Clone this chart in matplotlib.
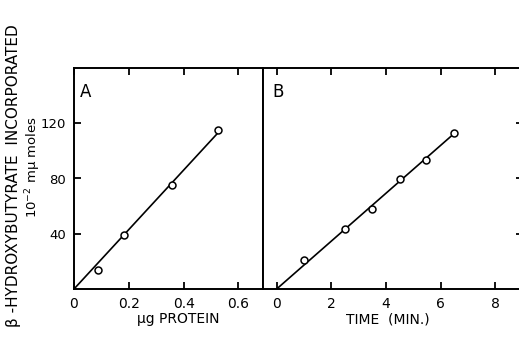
import matplotlib
matplotlib.use("Agg")
import matplotlib.pyplot as plt
import numpy as np

# Panel A data
protein = [0.087, 0.184, 0.356, 0.527]
incorp_a = [13.7, 39.0, 75.2, 115.0]
fit_a_x = [0.0, 0.53]
fit_a_y = [0.0, 114.0]

# Panel B data
time_min = [1.0, 2.52, 3.5, 4.5, 5.47, 6.5]
incorp_b = [21.0, 43.4, 57.6, 79.8, 93.6, 112.6]
fit_b_x = [0.0, 6.5]
fit_b_y = [0.0, 112.6]

a_xticks = [0, 0.2, 0.4, 0.6]
a_xticklabels = ["0", "0.2", "0.4", "0.6"]
b_xticks = [0, 2, 4, 6, 8]
b_xticklabels = ["0", "2", "4", "6", "8"]
yticks = [40, 80, 120]
yticklabels = ["40", "80", "120"]

W, H = 519, 346
fig = plt.figure(figsize=(W / 100, H / 100), dpi=100)
plt.rcParams['font.family'] = ['DejaVu Sans']

def rect(l, r, t, b):
    return [l / W, 1 - b / H, (r - l) / W, (b - t) / H]

axA = fig.add_axes(rect(74, 263, 68, 289))
axB = fig.add_axes(rect(263, 522.5, 68, 289))

for ax in (axA, axB):
    for s in ax.spines.values():
        s.set_linewidth(1.4)
    ax.set_ylim(0, 160)
    ax.tick_params(direction='in', length=5, width=1.3, labelsize=10)
    ax.tick_params(axis='x', pad=5.5)
    ax.tick_params(axis='y', pad=6, labelsize=9.5)

# Panel A
axA.plot(fit_a_x, fit_a_y, color='black', lw=1.2)
axA.plot(protein, incorp_a, 'o', mfc='white', mec='black', ms=5, mew=1.1)
axA.set_xlim(0, 0.69)
axA.set_xticks(a_xticks)
axA.set_xticklabels(a_xticklabels)
axA.set_yticks(yticks)
axA.set_yticklabels(yticklabels)
axA.tick_params(top=True, right=False, left=True, bottom=True)
axA.text(0.03, 0.87, "A", transform=axA.transAxes, fontsize=12)
axA.text(0.553, -0.136, "μg PROTEIN", transform=axA.transAxes, ha='center', va='center', fontsize=10)

# Panel B
axB.plot(fit_b_x, fit_b_y, color='black', lw=1.2)
axB.plot(time_min, incorp_b, 'o', mfc='white', mec='black', ms=5, mew=1.1)
axB.set_xlim(-0.5, 9.0)
axB.set_xticks(b_xticks)
axB.set_xticklabels(b_xticklabels)
axB.set_yticks(yticks)
axB.tick_params(top=True, right=True, left=False, bottom=True, labelleft=False)
axB.text(0.035, 0.87, "B", transform=axB.transAxes, fontsize=12)
axB.text(0.48, -0.14, "TIME  (MIN.)", transform=axB.transAxes, ha='center', va='center', fontsize=10)

# Y label
fig.text(14 / W, 1 - 176 / H, "β -HYDROXYBUTYRATE  INCORPORATED", rotation=90,
         ha='center', va='center', fontsize=11)
fig.text(33 / W, 1 - 167 / H, r"10$^{-2}$ mμ moles", rotation=90,
         ha='center', va='center', fontsize=9.5)

fig.savefig("out.png", dpi=100)
